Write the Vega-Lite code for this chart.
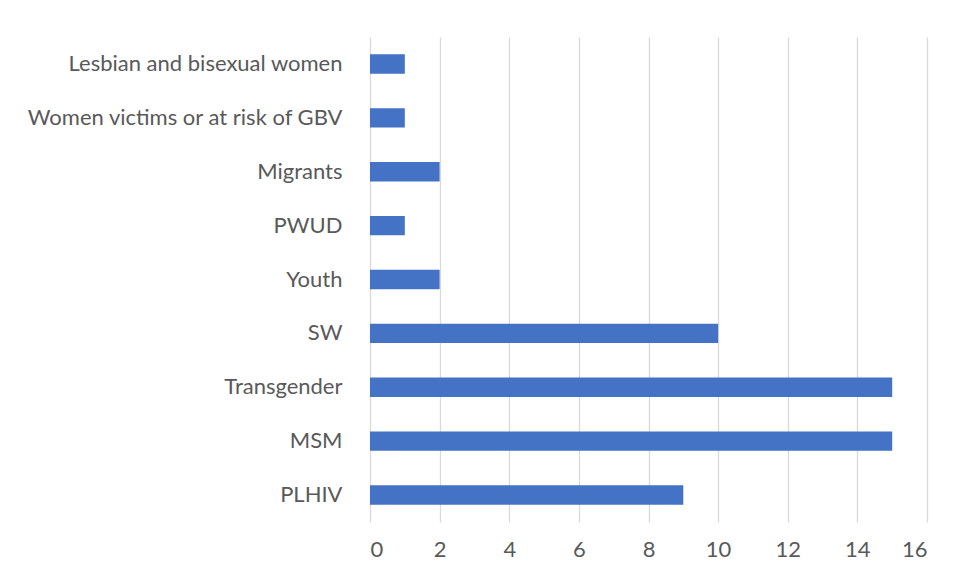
{
  "$schema": "https://vega.github.io/schema/vega-lite/v6.json",
  "width": 557,
  "height": 485,
  "autosize": {"type": "none"},
  "padding": {"left": 370, "top": 37, "right": 32, "bottom": 57},
  "background": "white",
  "config": {"view": {"stroke": null}},
  "data": {
    "values": [
      {"group": "Lesbian and bisexual women", "count": 1},
      {"group": "Women victims or at risk of GBV", "count": 1},
      {"group": "Migrants", "count": 2},
      {"group": "PWUD", "count": 1},
      {"group": "Youth", "count": 2},
      {"group": "SW", "count": 10},
      {"group": "Transgender", "count": 15},
      {"group": "MSM", "count": 15},
      {"group": "PLHIV", "count": 9}
    ]
  },
  "mark": {"type": "bar", "color": "#4472C4"},
  "encoding": {
    "y": {
      "field": "group",
      "type": "nominal",
      "sort": null,
      "scale": {"paddingInner": 0.64, "paddingOuter": 0.32},
      "axis": {
        "title": null,
        "domain": false,
        "ticks": false,
        "labelFont": "Lato",
        "labelFontSize": 22,
        "labelColor": "#595959",
        "labelPadding": 28,
        "labelLimit": 400
      }
    },
    "x": {
      "field": "count",
      "type": "quantitative",
      "scale": {"domain": [0, 16]},
      "axis": {
        "title": null,
        "domain": false,
        "ticks": false,
        "values": [0, 2, 4, 6, 8, 10, 12, 14, 16],
        "grid": true,
        "gridColor": "#d9d9d9",
        "gridWidth": 1.3,
        "labelFont": "Lato",
        "labelFontSize": 22,
        "labelColor": "#595959",
        "labelPadding": 17
      }
    }
  }
}
